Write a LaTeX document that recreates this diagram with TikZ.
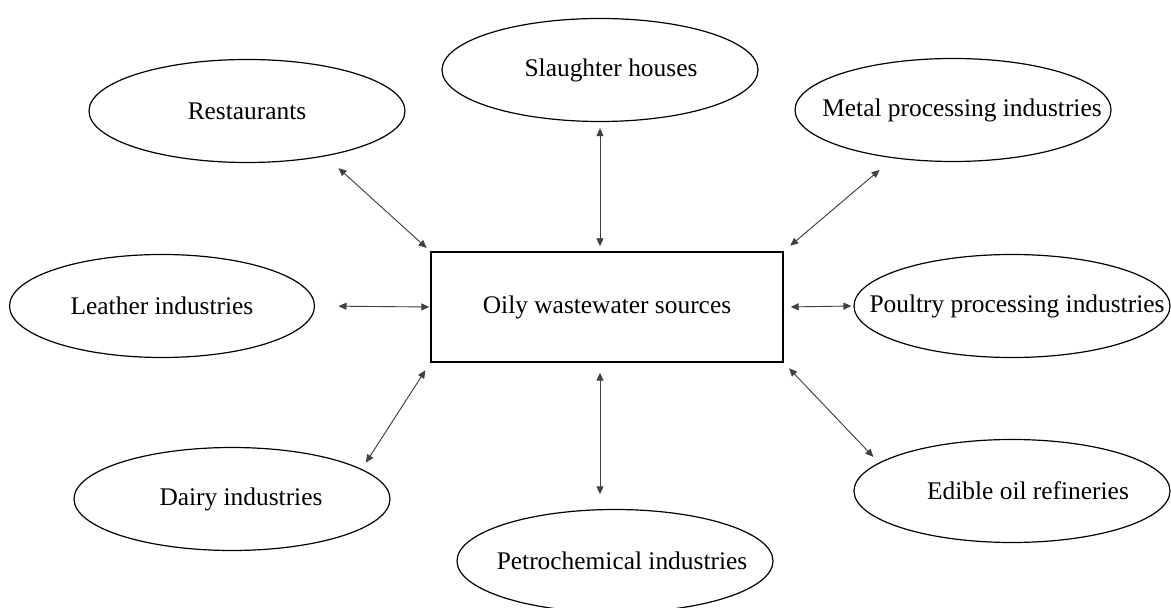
\documentclass[tikz,border=0pt]{standalone}
\usepackage{fontspec}
\setmainfont{Liberation Serif}
\usetikzlibrary{arrows.meta,shapes.geometric}
\newcommand{\lbl}[2][0pt]{\makebox[0pt]{\hspace*{#1}#2}}

\begin{document}
\begin{tikzpicture}[
    x=0.5pt, y=-0.5pt,
    every node/.style={color=black, font=\fontsize{12.7}{15}\selectfont},
    source/.style={ellipse, draw, line width=0.6pt, minimum width=158pt, minimum height=51.5pt, inner sep=0pt},
    main box/.style={rectangle, draw, line width=0.7pt, minimum width=176pt, minimum height=55pt},
    link/.style={{Triangle[length=4pt,width=3.5pt]}-{Triangle[length=4pt,width=3.5pt]}, line width=0.45pt, draw=black!75, fill=black}
    ]
\useasboundingbox (0,0) rectangle (1171,608);
\node[main box] (src) at (607,307) {Oily wastewater sources};
\node[source] (rest) at (247,111) {\lbl{Restaurants}};
\node[source] (sl) at (600,70) {\lbl[11pt]{Slaughter houses}};
\node[source] (metal) at (953,110) {\lbl[9pt]{Metal processing industries}};
\node[source, minimum width=152.5pt] (lea) at (162,306) {\lbl{Leather industries}};
\node[source] (poul) at (1012,306) {\lbl[5pt]{Poultry processing industries}};
\node[source] (dairy) at (232,499) {\lbl[9pt]{Dairy industries}};
\node[source] (edible) at (1012,491) {\lbl[16pt]{Edible oil refineries}};
\node[source] (pet) at (615,561) {\lbl[7pt]{Petrochemical industries}};
\draw[link, shorten <=8.8pt, shorten >=2.5pt] (rest.-30) -- (src.north west);
\draw[link, shorten <=3pt, shorten >=2.5pt] (sl.south) -- (sl.south |- src.north);
\draw[link, shorten <=9pt, shorten >=4.3pt] (metal.-141) -- (src.north east);
\draw[link, shorten <=11.7pt, shorten >=0.5pt] (lea.east) -- (src.west);
\draw[link, shorten <=3.5pt, shorten >=1pt] (src.east) -- (poul.west);
\draw[link, shorten <=3.8pt, shorten >=4.5pt] (dairy.13) -- (src.south west);
\draw[link, shorten <=4pt, shorten >=3.9pt] (edible.168) -- (src.south east);
\draw[link, shorten <=5pt, shorten >=7.3pt] (sl.south |- src.south) -- (sl.south |- pet.north);
\end{tikzpicture}
\end{document}
